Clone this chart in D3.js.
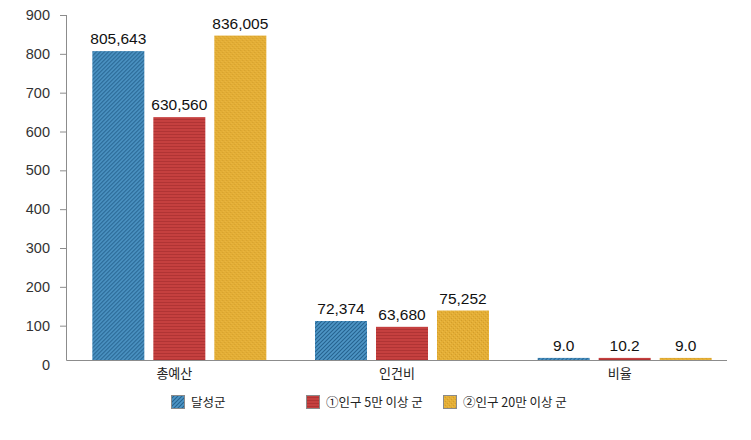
<!DOCTYPE html>
<html><head><meta charset="utf-8">
<script src="https://cdn.jsdelivr.net/npm/d3@7"></script>
<style>body{margin:0;background:#fff}svg{display:block}</style>
</head><body>
<svg id="c" width="751" height="440"></svg>
<script>
// ---- data ----
const categories = ["총예산", "인건비", "비율"];
const seriesNames = ["달성군", "①인구 5만 이상 군", "②인구 20만 이상 군"];
// bar heights as drawn in the picture (y axis units)
const seriesA = [807, 112, 17];   // 달성군
const seriesB = [637, 97, 17];    // ①인구 5만 이상 군
const seriesC = [847, 139, 17];   // ②인구 20만 이상 군
// printed value labels
const labelsA = ["805,643", "72,374", "9.0"];
const labelsB = ["630,560", "63,680", "10.2"];
const labelsC = ["836,005", "75,252", "9.0"];
const yTicks = [0, 100, 200, 300, 400, 500, 600, 700, 800, 900];

const svg = d3.select("#c");
const fills = ["url(#pBlue)", "url(#pRed)", "url(#pYellow)"];

// ---- patterns ----
const defs = svg.append("defs");
const pb = defs.append("pattern").attr("id", "pBlue").attr("patternUnits", "userSpaceOnUse")
  .attr("width", 4).attr("height", 4);
pb.append("rect").attr("width", 4).attr("height", 4).attr("fill", "#4d95c5");
pb.append("path").attr("d", "M0,4 L4,0 M-1,1 L1,-1 M3,5 L5,3").attr("stroke", "#25628f").attr("stroke-width", 1.1);
const pr = defs.append("pattern").attr("id", "pRed").attr("patternUnits", "userSpaceOnUse")
  .attr("width", 4).attr("height", 3);
pr.append("rect").attr("width", 4).attr("height", 3).attr("fill", "#c5403f");
pr.append("rect").attr("y", 2).attr("width", 4).attr("height", 1).attr("fill", "#b03434");
const py = defs.append("pattern").attr("id", "pYellow").attr("patternUnits", "userSpaceOnUse")
  .attr("width", 4).attr("height", 4);
py.append("rect").attr("width", 4).attr("height", 4).attr("fill", "#e4ae36");
py.append("rect").attr("x", 0).attr("y", 0).attr("width", 1).attr("height", 1).attr("fill", "#d39f2c");
py.append("rect").attr("x", 2).attr("y", 2).attr("width", 1).attr("height", 1).attr("fill", "#d39f2c");
py.append("rect").attr("x", 1).attr("y", 3).attr("width", 1).attr("height", 1).attr("fill", "#eab945");
py.append("rect").attr("x", 3).attr("y", 1).attr("width", 1).attr("height", 1).attr("fill", "#eab945");

// ---- scales ----
const axisX = 66, baseY = 360, plotRight = 727;
const y = d3.scaleLinear().domain([0, 900]).range([364.5, 15]);
const x0 = d3.scaleBand().domain(categories).range([68, 736]);
const x1 = d3.scaleBand().domain(seriesNames).range([-87, 87]).paddingInner(9 / 61);

// ---- y axis ----
const yAxis = d3.axisLeft(y).tickValues(yTicks).tickSize(6).tickPadding(10);
const gy = svg.append("g").attr("transform", `translate(${axisX},0)`).call(yAxis);
gy.select(".domain").remove();
gy.selectAll(".tick line").attr("stroke", "#8c8c8c").filter(d => d === 0).remove();
gy.selectAll(".tick text").attr("fill", "#333").style("font-family", "'Liberation Sans', Arial, sans-serif")
  .style("font-size", "14.5px");
svg.append("path").attr("d", `M${axisX + 0.5},${y(900)} V${baseY + 0.5} H${plotRight}`)
  .attr("fill", "none").attr("stroke", "#8c8c8c").attr("stroke-width", 1);

// ---- bars ----
const seriesVals = [seriesA, seriesB, seriesC];
const seriesLabels = [labelsA, labelsB, labelsC];
const rows = [];
categories.forEach((c, ci) => seriesNames.forEach((s, si) => rows.push({
  c, s, si, v: seriesVals[si][ci], lab: seriesLabels[si][ci]
})));
const bars = svg.append("g").selectAll("g").data(rows).join("g")
  .attr("transform", d => `translate(${x0(d.c) + x0.bandwidth() / 2 + x1(d.s)},0)`);
bars.append("rect").attr("x", 0).attr("width", x1.bandwidth())
  .attr("y", d => y(d.v)).attr("height", d => baseY - y(d.v))
  .attr("fill", d => fills[d.si]);
bars.append("text").attr("x", x1.bandwidth() / 2).attr("y", d => y(d.v) - 7)
  .attr("text-anchor", "middle").attr("fill", "#111")
  .style("font-family", "'Liberation Sans', Arial, sans-serif").style("font-size", "15.5px")
  .text(d => d.lab);

// ---- category labels ----
svg.append("g").selectAll("text").data(categories).join("text")
  .attr("x", d => x0(d) + x0.bandwidth() / 2 - 5).attr("y", 378)
  .attr("text-anchor", "middle").attr("fill", "#222")
  .style("font-family", "'Noto Sans CJK KR', sans-serif").style("font-size", "13px")
  .text(d => d);

// ---- legend ----
const legX = [171, 306, 443];
const leg = svg.append("g").selectAll("g").data(seriesNames).join("g")
  .attr("transform", (d, i) => `translate(${legX[i]},395)`);
leg.append("rect").attr("x", 0.5).attr("y", 0.5).attr("width", 13).attr("height", 13)
  .attr("fill", (d, i) => fills[i]).attr("stroke", "#8a8a8a");
leg.append("text").attr("x", 20).attr("y", 11.5).attr("fill", "#222")
  .style("font-family", "'Noto Sans CJK KR', sans-serif").style("font-size", "12.5px")
  .text(d => d);
</script>
</body></html>
